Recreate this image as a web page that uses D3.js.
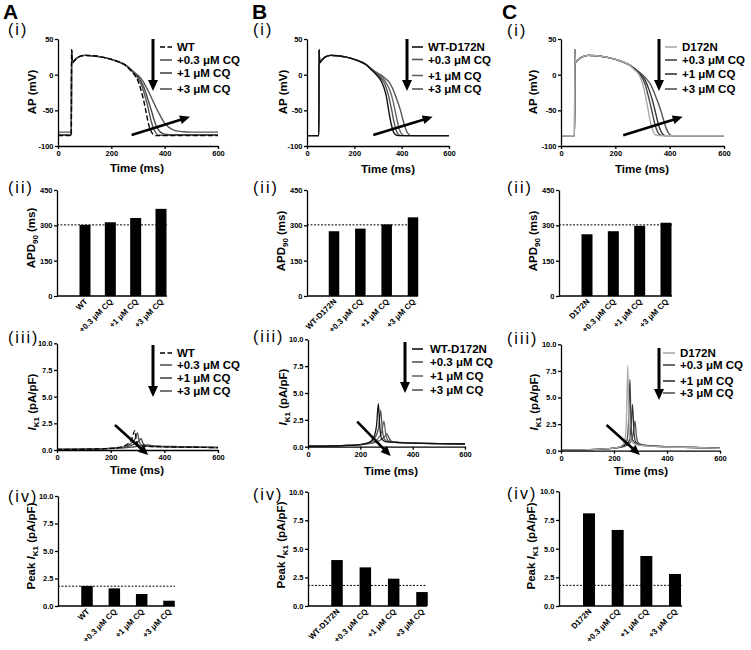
<!DOCTYPE html>
<html><head><meta charset="utf-8">
<script src="https://cdn.jsdelivr.net/npm/d3@7/dist/d3.min.js"></script>
<style>html,body{margin:0;padding:0;background:#fff}svg{display:block}</style>
</head><body>
<svg id="fig" width="751" height="650"></svg>
<script>
// ================= DATA =================
const timeTicks = [0, 200, 400, 600];
const apTicks = [-100, -50, 0, 50];
const apdTicks = [0, 150, 300, 450];
const ikTicks = [0, 2.5, 5, 7.5, 10];

const catsA = ["WT", "+0.3 μM CQ", "+1 μM CQ", "+3 μM CQ"];
const catsB = ["WT-D172N", "+0.3 μM CQ", "+1 μM CQ", "+3 μM CQ"];
const catsC = ["D172N", "+0.3 μM CQ", "+1 μM CQ", "+3 μM CQ"];

// APD90 (ms)
const apdA = [302, 313, 331, 370];
const apdB = [275, 286, 304, 334];
const apdC = [262, 275, 298, 311];
const apdRef = 302;

// Peak IK1 (pA/pF)
const peakA = [1.82, 1.60, 1.09, 0.48];
const peakB = [4.02, 3.38, 2.39, 1.22];
const peakC = [8.08, 6.63, 4.36, 2.79];
const peakRef = 1.8;

// AP traces: resting potential, common upstroke/plateau, and repolarisation tails [t(ms), V(mV)]
const apRestA = [-85.5, -85, -84, -80.5];
const apRestB = [-85.5, -85.5, -85.5, -85.5];
const apRestC = [-85.5, -85.5, -85.5, -85.5];
const apPlateau = [[51,35],[52,26],[55,17],[60,19],[70,23],[85,26],[100,27],[130,26.5],[160,25],[190,22.5],[220,19],[250,14]];

const apTailA0 = [[270,7],[290,-2],[300,-9],[310,-20],[320,-34],[330,-52],[340,-70],[350,-80],[360,-84.5],[370,-85.5],[600,-85.5]];
const apTailA1 = [[270,7.5],[290,0],[300,-5],[310,-12],[320,-22],[330,-35],[340,-50],[350,-66],[360,-77],[370,-83],[380,-85],[600,-85]];
const apTailA2 = [[270,8],[290,1],[300,-3],[310,-9],[320,-16],[330,-26],[340,-38],[350,-50],[360,-63],[370,-73],[380,-79],[390,-82],[400,-83.5],[420,-84],[600,-84]];
const apTailA3 = [[270,8.5],[290,2],[300,-1],[310,-5],[320,-10],[330,-17],[340,-24],[350,-32],[360,-40],[370,-48],[380,-55],[390,-62],[400,-68],[410,-72],[420,-75],[440,-78.5],[470,-80],[500,-80.5],[600,-80.5]];

const apTailB0 = [[270,7.5],[290,1],[310,-7],[325,-18],[335,-30],[345,-50],[355,-68],[365,-80],[375,-84.5],[385,-85.5],[600,-85.5]];
const apTailB1 = [[270,8],[290,2],[310,-4],[330,-14],[345,-30],[358,-50],[368,-67],[378,-79],[388,-84.5],[398,-85.5],[600,-85.5]];
const apTailB2 = [[270,8.5],[290,3],[310,-2],[330,-9],[350,-22],[362,-35],[372,-50],[382,-66],[392,-78],[402,-84],[412,-85.5],[600,-85.5]];
const apTailB3 = [[270,9],[290,4],[310,0],[330,-5],[350,-12],[370,-26],[383,-38],[395,-50],[406,-64],[417,-76],[428,-83],[440,-85.5],[600,-85.5]];

const apTailC0 = [[270,7],[290,-2],[300,-12],[310,-28],[321,-50],[330,-68],[340,-80],[350,-85],[360,-85.5],[600,-85.5]];
const apTailC1 = [[270,8],[290,0],[300,-5],[310,-14],[320,-28],[334,-50],[344,-67],[354,-79],[364,-84.5],[374,-85.5],[600,-85.5]];
const apTailC2 = [[270,8.5],[290,1.5],[310,-8],[325,-22],[335,-34],[346,-50],[356,-66],[366,-78],[376,-84],[386,-85.5],[600,-85.5]];
const apTailC3 = [[270,9],[290,3],[310,-4],[330,-14],[345,-27],[356,-38],[367,-50],[378,-64],[388,-76],[398,-83],[410,-85.5],[600,-85.5]];

// IK1 traces [t(ms), I(pA/pF)]
const ikA0 = [[0,0.05],[100,0.07],[150,0.1],[200,0.15],[240,0.3],[265,0.6],[280,1.1],[290,1.82],[296,0.9],[305,0.45],[330,0.35],[400,0.3],[500,0.26],[600,0.22]];
const ikA1 = [[0,0.05],[100,0.07],[150,0.1],[200,0.15],[250,0.3],[275,0.6],[290,1.0],[300,1.6],[306,0.8],[315,0.45],[340,0.35],[400,0.3],[500,0.26],[600,0.22]];
const ikA2 = [[0,0.05],[100,0.07],[150,0.1],[200,0.15],[260,0.3],[290,0.6],[305,0.85],[313,1.09],[320,0.65],[330,0.42],[360,0.35],[400,0.31],[500,0.27],[600,0.23]];
const ikA3 = [[0,0.05],[100,0.07],[150,0.1],[200,0.15],[270,0.25],[300,0.35],[325,0.45],[338,0.48],[350,0.42],[380,0.36],[450,0.32],[600,0.26]];

const ikB0 = [[0,0.05],[100,0.08],[150,0.12],[200,0.2],[230,0.35],[250,0.8],[262,2.0],[269,4.0],[274,2.0],[282,0.7],[300,0.45],[350,0.38],[400,0.33],[500,0.28],[600,0.25]];
const ikB1 = [[0,0.05],[100,0.08],[150,0.12],[200,0.2],[230,0.35],[255,0.8],[270,1.8],[278,3.38],[284,1.6],[292,0.7],[310,0.45],[350,0.38],[400,0.33],[500,0.28],[600,0.25]];
const ikB2 = [[0,0.05],[100,0.08],[150,0.12],[200,0.2],[240,0.35],[265,0.7],[282,1.4],[290,2.39],[297,1.2],[306,0.6],[325,0.42],[400,0.34],[500,0.29],[600,0.25]];
const ikB3 = [[0,0.05],[100,0.08],[150,0.12],[200,0.2],[250,0.35],[275,0.6],[292,0.9],[301,1.22],[310,0.8],[320,0.5],[340,0.42],[400,0.35],[500,0.29],[600,0.25]];

const ikC0 = [[0,0.05],[100,0.1],[150,0.15],[200,0.25],[225,0.4],[240,0.9],[247,3.0],[252,8.0],[256,3.0],[262,1.0],[280,0.6],[320,0.45],[400,0.35],[500,0.3],[600,0.22]];
const ikC1 = [[0,0.05],[100,0.1],[150,0.15],[200,0.25],[230,0.4],[248,0.9],[255,2.8],[260,6.7],[264,2.8],[270,1.0],[290,0.55],[330,0.45],[400,0.36],[500,0.3],[600,0.22]];
const ikC2 = [[0,0.05],[100,0.1],[150,0.15],[200,0.25],[235,0.4],[255,0.8],[264,2.0],[270,4.36],[275,1.8],[282,0.8],[300,0.55],[340,0.45],[400,0.37],[500,0.3],[600,0.23]];
const ikC3 = [[0,0.05],[100,0.1],[150,0.15],[200,0.25],[240,0.4],[262,0.8],[272,1.5],[279,2.79],[285,1.3],[293,0.7],[310,0.55],[350,0.45],[400,0.38],[500,0.31],[600,0.24]];

// ================= LAYOUT / STYLE =================
const FONT = 'Arial, "Liberation Sans", sans-serif';
const svg = d3.select('#fig');

const cols = [
  { letter:'A', lx:3, cats:catsA, apd:apdA, peak:peakA, rest:apRestA,
    tails:[apTailA0,apTailA1,apTailA2,apTailA3], ik:[ikA0,ikA1,ikA2,ikA3],
    colors:['#000','#555','#454545','#555'], dash:['5,2.5',null,null,null],
    i:{x0:58,x1:218,yT:39,yB:146}, ii:{x0:57,xE:167,c0:85,c3:161,bw:11,yT:190,yB:296},
    iii:{x0:57,x1:218,yT:343.3,yB:450}, iv:{x0:58,xE:175,c0:87,c3:169,bw:11.5,yT:496,yB:606},
    legI:{ax:153,ay0:39,ay1:91,lx0:160,lx1:172,tx:177,ys:[47,60,73,89]},
    legIII:{ax:153,ay0:345,ay1:397,lx0:160,lx1:172,tx:177,ys:[353,365,378,391]},
    arrI:[[276,-84.6],[495,-59]], arrIII:[[216,2.34],[340,-0.47]],
    rom:{x:8,ys:[34.5,193,343,501.5]},
    yt:{x:[36,35,36,35],y:[92,238,402,546]}, tt:{x:[137,137],y:[172,474]} },
  { letter:'B', lx:252, cats:catsB, apd:apdB, peak:peakB, rest:apRestB,
    tails:[apTailB0,apTailB1,apTailB2,apTailB3], ik:[ikB0,ikB1,ikB2,ikB3],
    colors:['#111','#555','#666','#555'], dash:[null,null,null,null],
    i:{x0:307,x1:449,yT:39,yB:146}, ii:{x0:307,xE:418,c0:334,c3:413,bw:10.5,yT:190,yB:296},
    iii:{x0:308,x1:465,yT:339.3,yB:446.7}, iv:{x0:308,xE:427,c0:337,c3:422,bw:11.5,yT:491.7,yB:606},
    legI:{ax:407,ay0:39,ay1:91,lx0:412,lx1:423,tx:428,ys:[47,59.5,75.5,89]},
    legIII:{ax:405,ay0:342,ay1:393,lx0:412,lx1:423,tx:430,ys:[349,362,376,390]},
    arrI:[[280,-84.6],[531,-59]], arrIII:[[188,2.33],[316,-0.87]],
    rom:{x:253,ys:[34.5,192.5,341.5,499.5]},
    yt:{x:[287,285,287,285],y:[92,241,397,545]}, tt:{x:[388,391],y:[173,475]} },
  { letter:'C', lx:502, cats:catsC, apd:apdC, peak:peakC, rest:apRestC,
    tails:[apTailC0,apTailC1,apTailC2,apTailC3], ik:[ikC0,ikC1,ikC2,ikC3],
    colors:['#aaa','#444','#333','#555'], dash:[null,null,null,null],
    i:{x0:561,x1:724,yT:39,yB:146}, ii:{x0:559,xE:672,c0:587,c3:666,bw:11,yT:190,yB:296},
    iii:{x0:561,x1:720,yT:344.3,yB:450.7}, iv:{x0:559,xE:682,c0:589,c3:675,bw:12,yT:491.3,yB:606},
    legI:{ax:659,ay0:39,ay1:91,lx0:665,lx1:677,tx:682,ys:[47,60,74,89]},
    legIII:{ax:659,ay0:348,ay1:400,lx0:663,lx1:675,tx:680,ys:[353,365,381,393]},
    arrI:[[229,-85],[448,-59]], arrIII:[[172,2.42],[298,-0.4]],
    rom:{x:507,ys:[35.5,192.5,343.5,498.5]},
    yt:{x:[537,537,538,535],y:[92,241,402,546]}, tt:{x:[642,641],y:[173,475]} }
];
const romans = ['(i)','(ii)','(iii)','(iv)'];

function styleAxis(g){
  g.select('.domain').attr('stroke','#000').attr('stroke-width',1.3);
  g.selectAll('.tick line').attr('stroke','#000').attr('stroke-width',1.3);
  g.selectAll('.tick text').attr('fill','#000').attr('font-family',FONT)
    .attr('font-size',7.5).attr('font-weight','bold');
}
function arrow(g,x1,y1,x2,y2,w,hl,hw){
  const dx=x2-x1, dy=y2-y1, L=Math.hypot(dx,dy), ux=dx/L, uy=dy/L;
  const bx=x2-ux*hl, by=y2-uy*hl;
  g.append('line').attr('x1',x1).attr('y1',y1).attr('x2',bx+ux*1).attr('y2',by+uy*1)
    .attr('stroke','#000').attr('stroke-width',w);
  g.append('path').attr('fill','#000')
    .attr('d',`M${x2},${y2}L${bx-uy*hw/2},${by+ux*hw/2}L${bx+uy*hw/2},${by-ux*hw/2}Z`);
}
function yTitle(g,x,y,parts){
  const t=g.append('text').attr('transform',`translate(${x},${y}) rotate(-90)`)
    .attr('text-anchor','middle').attr('font-family',FONT).attr('font-size',11.5)
    .attr('font-weight','bold').attr('fill','#000');
  parts.forEach(p=>{
    const s=t.append('tspan').text(p.t);
    if(p.it) s.attr('font-style','italic');
    if(p.sub){ s.attr('font-size',8).attr('dy',3); }
    if(p.after){ s.attr('dy',-3); }
  });
}
function timeTitle(g,x,y){
  g.append('text').attr('x',x).attr('y',y).attr('text-anchor','middle')
    .attr('font-family',FONT).attr('font-size',11.5).attr('font-weight','bold').text('Time (ms)');
}
function legend(g,L,labels,colors,dash){
  arrow(g,L.ax,L.ay0,L.ax,L.ay1,3,11,10);
  labels.forEach((lab,k)=>{
    g.append('line').attr('x1',L.lx0).attr('x2',L.lx1).attr('y1',L.ys[k]).attr('y2',L.ys[k])
      .attr('stroke',colors[k]).attr('stroke-width',1.6)
      .attr('stroke-dasharray',dash[k]||null);
    g.append('text').attr('x',L.tx).attr('y',L.ys[k]+4).attr('font-family',FONT)
      .attr('font-size',11.5).attr('font-weight','bold').attr('fill','#000').text(lab);
  });
}

cols.forEach(c=>{
  const g = svg.append('g');
  g.append('text').attr('x',c.lx).attr('y',18.5).attr('font-family',FONT).attr('font-size',21)
    .attr('font-weight','bold').text(c.letter);
  romans.forEach((r,k)=>{
    g.append('text').attr('x',c.rom.x).attr('y',c.rom.ys[k]).attr('font-family',FONT)
      .attr('font-size',16).attr('letter-spacing',2).text(r);
  });

  // ---------- (i) AP traces ----------
  {
    const P=c.i;
    const x=d3.scaleLinear().domain([0,600]).range([P.x0,P.x1]);
    const y=d3.scaleLinear().domain([-100,50]).range([P.yB,P.yT]);
    const line=d3.line().x(d=>x(d[0])).y(d=>y(d[1])).curve(d3.curveMonotoneX);
    [3,2,1,0].forEach(k=>{
      const tr=[[0,c.rest[k]],[50,c.rest[k]]].concat(apPlateau,c.tails[k]);
      g.append('path').attr('d',line(tr)).attr('fill','none').attr('stroke',c.colors[k])
        .attr('stroke-width',1.4).attr('stroke-dasharray',c.dash[k]||null);
    });
    const ax=g.append('g').attr('transform',`translate(${P.x0},0)`)
      .call(d3.axisLeft(y).tickValues(apTicks).tickFormat(d=>String(d)).tickSize(3).tickSizeOuter(0).tickPadding(1.5));
    styleAxis(ax);
    const bx=g.append('g').attr('transform',`translate(0,${P.yB})`)
      .call(d3.axisBottom(x).tickValues(timeTicks).tickFormat(d=>String(d)).tickSize(3).tickSizeOuter(0).tickPadding(1.5));
    styleAxis(bx);
    arrow(g,x(c.arrI[0][0]),y(c.arrI[0][1]),x(c.arrI[1][0]),y(c.arrI[1][1]),2.6,10,9);
    legend(g,c.legI,c.cats,c.colors,c.dash);
    yTitle(g,c.yt.x[0],c.yt.y[0],[{t:'AP (mV)'}]);
    timeTitle(g,c.tt.x[0],c.tt.y[0]);
  }

  // ---------- bar panels ----------
  function bars(P,vals,ref,ticks,fmt){
    const x=d3.scalePoint().domain(c.cats).range([P.c0,P.c3]);
    const y=d3.scaleLinear().domain([ticks[0],ticks[ticks.length-1]]).range([P.yB,P.yT]);
    g.append('g').selectAll('rect').data(c.cats).join('rect')
      .attr('x',d=>x(d)-P.bw/2).attr('width',P.bw)
      .attr('y',(d,k)=>y(vals[k])).attr('height',(d,k)=>y(0)-y(vals[k])).attr('fill','#000');
    g.append('line').attr('x1',P.x0).attr('x2',P.xE).attr('y1',y(ref)).attr('y2',y(ref))
      .attr('stroke','#000').attr('stroke-width',1).attr('stroke-dasharray','2,1.5');
    const ax=g.append('g').attr('transform',`translate(${P.x0},0)`)
      .call(d3.axisLeft(y).tickValues(ticks).tickFormat(fmt).tickSize(3).tickSizeOuter(0).tickPadding(1.5));
    styleAxis(ax);
    g.append('line').attr('x1',P.x0).attr('x2',P.xE).attr('y1',P.yB).attr('y2',P.yB)
      .attr('stroke','#000').attr('stroke-width',1.3);
    c.cats.forEach(cat=>{
      g.append('text').attr('transform',`translate(${x(cat)+3},${P.yB+6}) rotate(-45)`)
        .attr('text-anchor','end').attr('font-family',FONT).attr('font-size',8)
        .attr('font-weight','bold').text(cat);
    });
  }
  bars(c.ii,c.apd,apdRef,apdTicks,d=>String(d));
  yTitle(g,c.yt.x[1],c.yt.y[1],[{t:'APD'},{t:'90',sub:true},{t:' (ms)',after:true}]);

  // ---------- (iii) IK1 traces ----------
  {
    const P=c.iii;
    const x=d3.scaleLinear().domain([0,600]).range([P.x0,P.x1]);
    const y=d3.scaleLinear().domain([0,10]).range([P.yB,P.yT]);
    const line=d3.line().x(d=>x(d[0])).y(d=>y(d[1])).curve(d3.curveMonotoneX);
    [3,2,1,0].forEach(k=>{
      g.append('path').attr('d',line(c.ik[k])).attr('fill','none').attr('stroke',c.colors[k])
        .attr('stroke-width',1.3).attr('stroke-dasharray',c.dash[k]||null);
    });
    const ax=g.append('g').attr('transform',`translate(${P.x0},0)`)
      .call(d3.axisLeft(y).tickValues(ikTicks).tickFormat(d3.format('.1f')).tickSize(3).tickSizeOuter(0).tickPadding(1.5));
    styleAxis(ax);
    const bx=g.append('g').attr('transform',`translate(0,${P.yB})`)
      .call(d3.axisBottom(x).tickValues(timeTicks).tickFormat(d=>String(d)).tickSize(3).tickSizeOuter(0).tickPadding(1.5));
    styleAxis(bx);
    arrow(g,x(c.arrIII[0][0]),y(c.arrIII[0][1]),x(c.arrIII[1][0]),y(c.arrIII[1][1]),2.6,10,9);
    legend(g,c.legIII,c.cats,c.colors,c.dash);
    yTitle(g,c.yt.x[2],c.yt.y[2],[{t:'I',it:true},{t:'K1',sub:true},{t:' (pA/pF)',after:true}]);
    timeTitle(g,c.tt.x[1],c.tt.y[1]);
  }

  bars(c.iv,c.peak,peakRef,ikTicks,d3.format('.1f'));
  yTitle(g,c.yt.x[3],c.yt.y[3],[{t:'Peak '},{t:'I',it:true},{t:'K1',sub:true},{t:' (pA/pF)',after:true}]);
});
</script>
</body></html>
